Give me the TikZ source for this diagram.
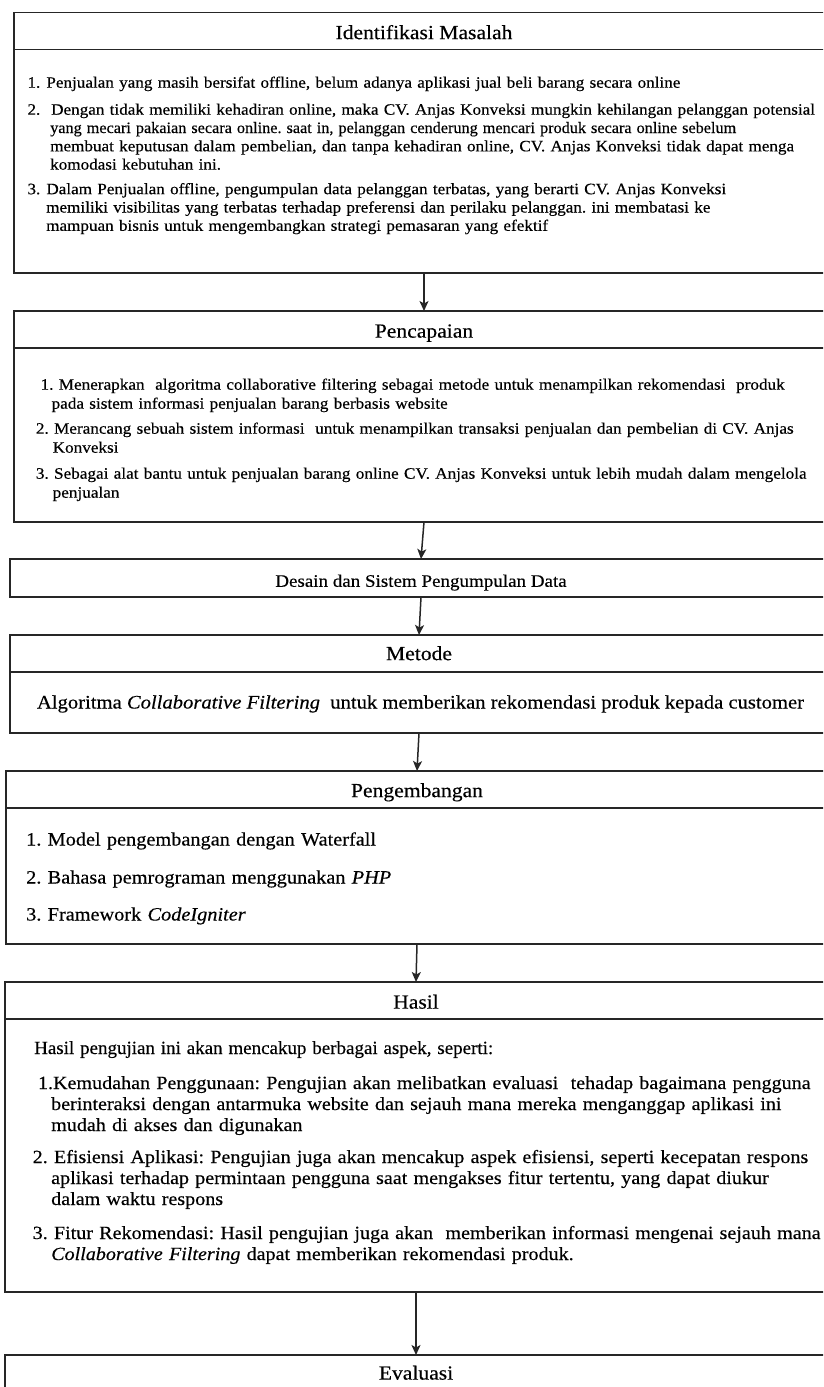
\documentclass[tikz,border=0pt]{standalone}
\usepackage{graphicx}
\usepackage{fontspec}
\setmainfont{Liberation Serif}[FakeStretch=1.08, FakeBold=0.35]
\usetikzlibrary{arrows.meta}
\newcommand\fsz[2]{\fontsize{#1}{#2}\selectfont}
% a line set a little narrower than its natural width
\newcommand\narrowline[2]{\scalebox{#1}[1]{#2}}
\frenchspacing

\begin{document}
\begin{tikzpicture}[x=1pt, y=-1pt,
  box/.style={draw=black!85, line width=1.5pt, rectangle, anchor=north west,
              inner sep=0pt, outer sep=0pt},
  rule/.style={draw=black!85, line width=1.5pt},
  title/.style={font=\fsz{20}{24}, inner sep=0pt, text height=13.2pt, text depth=0pt},
  item/.style={anchor=base west, inner sep=0pt, text width=815pt, align=left},
  arr/.style={draw=black!85, line width=1.5pt,
              -{Stealth[length=10pt, width=9pt, inset=2.5pt]}},
]
\useasboundingbox (0,0) rectangle (823,1387);
\clip (0,0) rectangle (823,1387);

% ---------- frames ----------
\node[box, minimum width=820pt, minimum height=260.5pt] (b1) at (14,12.5) {};
\node[box, minimum width=820pt, minimum height=211pt]   (b2) at (14,311) {};
\node[box, minimum width=822pt, minimum height=38pt]    (b3) at (10,559) {};
\node[box, minimum width=818pt, minimum height=98pt]    (b4) at (10,635) {};
\node[box, minimum width=822pt, minimum height=173pt]   (b5) at (6,771) {};
\node[box, minimum width=822pt, minimum height=310pt]   (b6) at (5,982) {};
\node[box, minimum width=822pt, minimum height=80pt]    (b7) at (5,1355) {};

% header rules
\foreach \b in {b1,b2,b4,b5,b6,b7}
  \draw[rule] ([yshift=-37pt]\b.north west) -- ([yshift=-37pt]\b.north east);

% ---------- titles ----------
\node[title] (t1) at ([yshift=-20pt]b1.north) {Identifikasi Masalah};
\node[title] (t2) at ([yshift=-20pt]b2.north) {Pencapaian};
\node[title, font=\fsz{17.6}{21}, text height=11.6pt] (t3) at ([yshift=-3pt]b3.center)
  {Desain dan Sistem Pengumpulan Data};
\node[title] (t4) at ([yshift=-18.5pt]b4.north) {Metode};
\node[title] (t5) at ([yshift=-19.5pt]b5.north) {Pengembangan};
\node[title] (t6) at ([yshift=-20pt]b6.north) {Hasil};
\node[title] (t7) at ([yshift=-18pt]b7.north) {Evaluasi};

% ---------- Identifikasi Masalah ----------
\begin{scope}[every node/.append style={font=\fsz{15.85}{18.3}}]
\node[item] (m1) at (27.3,87.7)
  {\makebox[18.9pt][l]{1.}Penjualan yang masih bersifat offline, belum adanya aplikasi jual beli barang secara online};
\node[item] (m2) at (27.3,114.7)
  {\makebox[23.7pt][l]{2.}Dengan tidak memiliki kehadiran online, maka CV. Anjas Konveksi mungkin kehilangan pelanggan potensial\\
   \hspace*{22.7pt}\narrowline{0.948}{yang mecari pakaian secara online. saat in, pelanggan cenderung mencari produk secara online sebelum}\\
   \hspace*{22.7pt}membuat keputusan dalam pembelian, dan tanpa kehadiran online, CV. Anjas Konveksi tidak dapat menga\\
   \hspace*{22.7pt}komodasi kebutuhan ini.};
\node[item] (m3) at (27.3,194.2)
  {\makebox[18.9pt][l]{3.}Dalam Penjualan offline, pengumpulan data pelanggan terbatas, yang berarti CV. Anjas Konveksi\\
   \hspace*{18.7pt}memiliki visibilitas yang terbatas terhadap preferensi dan perilaku pelanggan. ini membatasi ke\\
   \hspace*{18.7pt}mampuan bisnis untuk mengembangkan strategi pemasaran yang efektif};
\end{scope}

% ---------- Pencapaian ----------
\begin{scope}[every node/.append style={font=\fsz{15.9}{19}}]
\node[item] (p1) at (40.4,389.7)
  {1. Menerapkan\ \ algoritma collaborative filtering sebagai metode untuk menampilkan rekomendasi\ \ produk\\
   \hspace*{11pt}pada sistem informasi penjualan barang berbasis website};
\node[item] (p2) at (35.7,433.7)
  {2. Merancang sebuah sistem informasi\ \ untuk menampilkan transaksi penjualan dan pembelian di CV. Anjas\\
   \hspace*{16.8pt}Konveksi};
\node[item] (p3) at (35.7,478.7)
  {3. Sebagai alat bantu untuk penjualan barang online CV. Anjas Konveksi untuk lebih mudah dalam mengelola\\
   \hspace*{16.8pt}penjualan};
\end{scope}

% ---------- Metode ----------
\node[anchor=base, inner sep=0pt, font=\fsz{19.1}{22}] (k1) at (420.5,708.5)
  {Algoritma \textit{Collaborative Filtering}\ \ untuk memberikan rekomendasi produk kepada customer};

% ---------- Pengembangan ----------
\begin{scope}[every node/.append style={font=\fsz{18.8}{22}}]
\node[item] (g1) at (26,845.5) {1. Model pengembangan dengan Waterfall};
\node[item] (g2) at (26,883.5) {2. Bahasa pemrograman menggunakan \textit{PHP}};
\node[item] (g3) at (26,920.5) {3. Framework \textit{CodeIgniter}};
\end{scope}

% ---------- Hasil ----------
\begin{scope}[every node/.append style={font=\fsz{18.6}{21}}]
\node[item] (h0) at (34,1054)
  {\narrowline{0.945}{Hasil pengujian ini akan mencakup berbagai aspek, seperti:}};
\node[item] (h1) at (37.8,1089)
  {1.Kemudahan Penggunaan: Pengujian akan melibatkan evaluasi\ \ tehadap bagaimana pengguna\\
   \hspace*{13.2pt}berinteraksi dengan antarmuka website dan sejauh mana mereka menganggap aplikasi ini\\
   \hspace*{13.2pt}mudah di akses dan digunakan};
\node[item] (h2) at (32.5,1163)
  {2. Efisiensi Aplikasi: Pengujian juga akan mencakup aspek efisiensi, seperti kecepatan respons\\
   \hspace*{18.5pt}aplikasi terhadap permintaan pengguna saat mengakses fitur tertentu, yang dapat diukur\\
   \hspace*{18.5pt}dalam waktu respons};
\node[item] (h3) at (32.5,1239)
  {3. Fitur Rekomendasi: Hasil pengujian juga akan\ \ memberikan informasi mengenai sejauh mana\\
   \hspace*{18.5pt}\textit{Collaborative Filtering} dapat memberikan rekomendasi produk.};
\end{scope}

% ---------- flow ----------
\draw[arr] (b1.south) -- (b2.north);
\draw[arr] (b2.south) -- (b3.north);
\draw[arr] (b3.south) -- (b4.north);
\draw[arr] (b4.south) -- (b5.north);
\draw[arr] (b5.south) -- (b6.north);
\draw[arr] (b6.south) -- (b7.north);
\end{tikzpicture}
\end{document}
